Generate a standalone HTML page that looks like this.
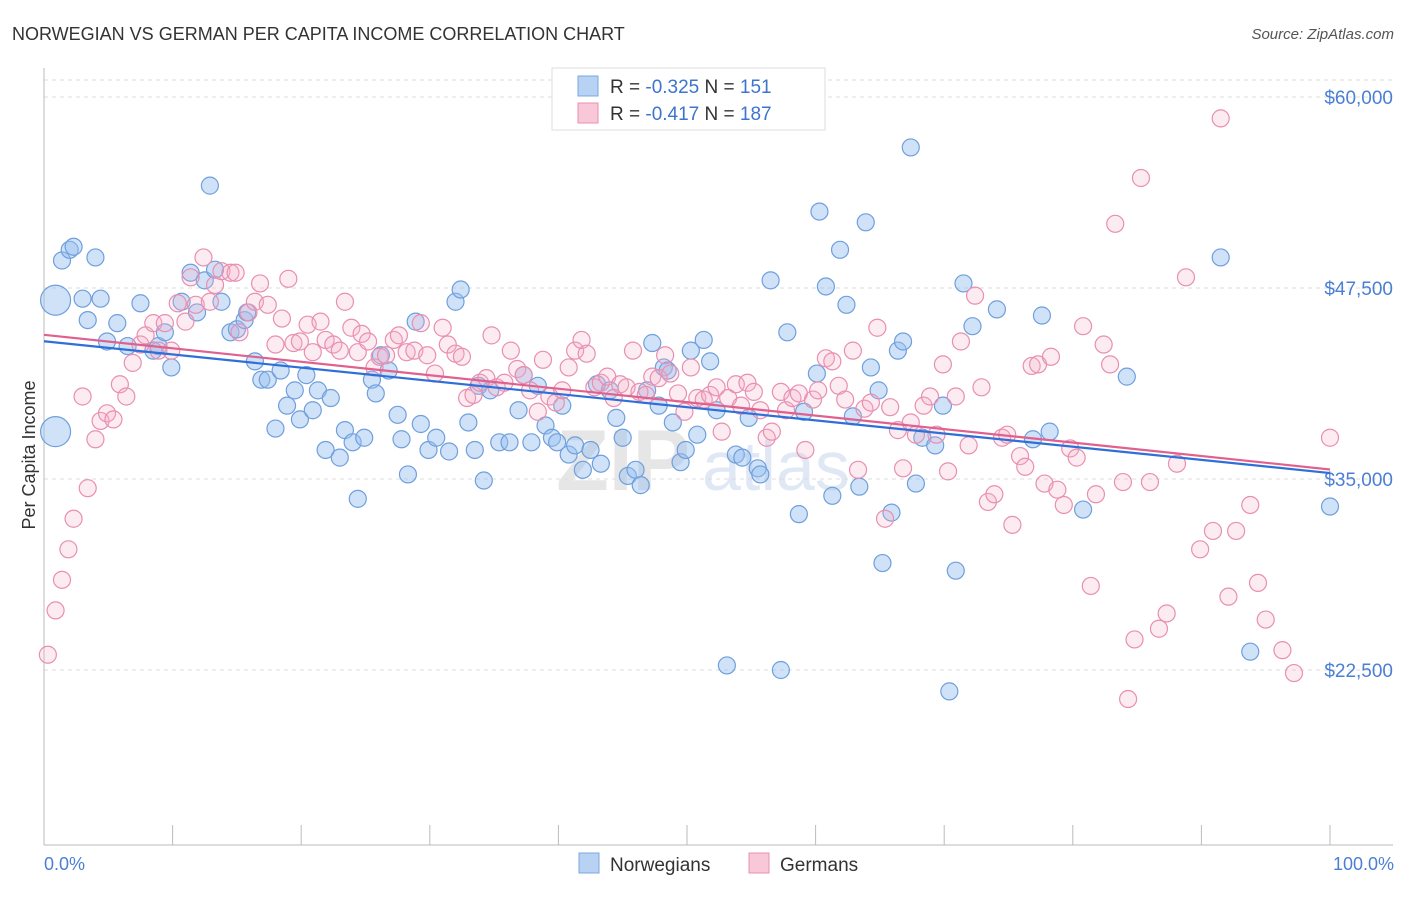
<!DOCTYPE html>
<html><head><meta charset="utf-8"><style>
body{margin:0;background:#fff;font-family:"Liberation Sans",sans-serif;}
svg text{font-family:"Liberation Sans",sans-serif;}
</style></head><body>
<svg id="chart" width="1406" height="892" xmlns="http://www.w3.org/2000/svg">
<text x="12" y="40" font-size="18" fill="#333">NORWEGIAN VS GERMAN PER CAPITA INCOME CORRELATION CHART</text>
<text x="1394" y="39" font-size="15" fill="#555" font-style="italic" text-anchor="end">Source: ZipAtlas.com</text>
<text x="690" y="490" font-size="86" font-weight="bold" fill="#e6e6e6" text-anchor="end" font-family="Liberation Serif">ZIP</text>
<text x="702" y="490" font-size="70" fill="#dfe8f4">atlas</text>
<g id="grid"></g>
<g id="axes"></g>
<g id="pts"></g>
<g id="trend"></g>
<text transform="translate(35,455) rotate(-90)" font-size="18" fill="#333" text-anchor="middle">Per Capita Income</text>
<text x="44" y="870" font-size="18" fill="#4a7fd4">0.0%</text>
<text x="1394" y="870" font-size="18" fill="#4a7fd4" text-anchor="end">100.0%</text>
<g>
<rect x="552" y="68" width="273" height="62" fill="#fff" stroke="#ddd"/>
<rect x="578" y="76" width="20" height="20" fill="#b8d2f4" stroke="#7aa8e0"/>
<text x="610" y="93" font-size="19" fill="#333">R = <tspan fill="#3d74cc">-0.325</tspan>   N = <tspan fill="#3d74cc">151</tspan></text>
<rect x="578" y="103" width="20" height="20" fill="#f8c8d8" stroke="#e890b0"/>
<text x="610" y="120" font-size="19" fill="#333">R = <tspan fill="#3d74cc">-0.417</tspan>   N = <tspan fill="#3d74cc">187</tspan></text>
</g>
<g>
<rect x="579" y="853" width="20" height="20" fill="#b8d2f4" stroke="#7aa8e0"/>
<text x="610" y="871" font-size="19" fill="#333">Norwegians</text>
<rect x="749" y="853" width="20" height="20" fill="#f8c8d8" stroke="#e890b0"/>
<text x="780" y="871" font-size="19" fill="#333">Germans</text>
</g>
</svg>
<script>
const yTicks=[22500,35000,47500,60000];
const yTickLabels=["$22,500","$35,000","$47,500","$60,000"];
const xTicks=[0,10,20,30,40,50,60,70,80,90,100];
const norX=[0.9,0.9,1.4,2.0,2.3,4.0,3.0,4.4,3.4,5.7,4.9,6.5,7.5,8.5,8.9,9.9,9.4,10.7,11.4,11.9,12.9,12.5,13.3,13.8,14.5,15.0,15.6,15.8,16.4,16.9,17.4,18.4,18.0,18.9,19.5,19.9,20.4,20.9,21.3,22.3,21.9,23.0,23.4,24.0,24.4,24.9,25.5,25.8,26.2,26.8,27.5,27.8,28.3,28.9,29.3,29.9,30.5,31.5,32.0,32.4,33.0,33.5,34.2,33.8,34.7,35.4,36.2,36.9,37.3,37.9,38.4,39.0,39.5,39.9,40.3,40.8,41.3,41.9,42.5,43.0,43.3,44.0,44.5,45.0,45.4,46.0,46.4,46.9,47.3,47.8,48.2,48.5,48.9,49.5,49.9,50.3,50.8,51.3,51.8,52.3,53.1,53.8,54.3,54.8,55.5,55.7,56.5,57.3,57.8,58.7,59.1,60.1,60.3,60.8,61.3,61.9,62.4,62.9,63.4,63.9,64.3,64.9,65.2,65.9,66.4,66.8,67.4,67.8,68.3,69.3,69.9,70.4,70.9,71.5,72.2,74.1,76.9,77.6,78.2,80.8,84.2,91.5,93.8,100];
const norY=[46.7,38.1,49.3,50.0,50.2,49.5,46.8,46.8,45.4,45.2,44.0,43.7,46.5,43.4,43.7,42.3,44.6,46.6,48.5,45.9,54.2,48.0,48.7,46.6,44.6,44.8,45.4,45.9,42.7,41.5,41.5,42.1,38.3,39.8,40.8,38.9,41.8,39.5,40.8,40.3,36.9,36.4,38.2,37.4,33.7,37.7,41.5,40.6,43.1,42.1,39.2,37.6,35.3,45.3,38.6,36.9,37.7,36.8,46.6,47.4,38.7,36.9,34.9,41.1,40.8,37.4,37.4,39.5,41.8,37.4,41.1,38.5,37.7,37.4,39.8,36.6,37.2,35.6,36.9,41.2,36.0,40.8,39.0,37.7,35.2,35.6,34.6,40.8,43.9,39.8,42.3,42.1,38.7,36.1,36.9,43.4,37.9,44.1,42.7,39.5,22.8,36.6,36.4,39.0,35.7,35.3,48.0,22.5,44.6,32.7,39.4,41.9,52.5,47.6,33.9,50.0,46.4,39.1,34.5,51.8,42.3,40.8,29.5,32.8,43.4,44.0,56.7,34.7,37.7,37.2,39.8,21.1,29.0,47.8,45.0,46.1,37.6,45.7,38.1,33.0,41.7,49.5,23.7,33.2];
const norBig=[0,1];
const gerX=[0.3,0.9,1.4,1.9,2.3,3.4,3.0,4.0,4.4,4.9,5.4,5.9,6.4,6.9,7.5,7.9,8.5,8.9,9.4,9.9,10.4,11.0,11.4,11.8,12.4,12.9,13.3,13.8,14.5,14.9,15.2,15.9,16.4,16.8,17.4,18.0,18.5,19.0,19.4,19.9,20.5,20.9,21.5,21.9,22.5,23.0,23.4,23.9,24.4,24.7,25.2,25.7,26.1,26.6,27.2,27.6,28.2,28.8,29.3,29.8,30.4,31.0,31.4,32.0,32.5,32.9,33.4,33.9,34.4,34.8,35.2,35.8,36.3,36.8,37.3,37.8,38.4,38.8,39.3,39.8,40.3,40.8,41.3,41.8,42.2,42.8,43.3,43.8,44.3,44.8,45.3,45.8,46.3,46.8,47.3,47.8,48.3,48.7,49.3,49.8,50.3,50.8,51.3,51.8,52.3,52.7,53.2,53.8,54.2,54.7,55.2,55.7,56.2,56.6,57.3,57.7,58.2,58.7,59.2,59.8,60.2,60.8,61.3,61.8,62.3,62.9,63.3,63.8,64.3,64.8,65.4,65.8,66.4,66.8,67.4,67.8,68.4,68.9,69.4,69.9,70.3,70.9,71.3,71.9,72.4,72.9,73.4,73.9,74.5,74.9,75.3,75.9,76.3,76.8,77.3,77.8,78.3,78.8,79.3,79.8,80.3,80.8,81.4,81.8,82.4,82.9,83.3,83.9,84.3,84.8,85.3,86.0,86.7,87.3,88.1,88.8,89.9,90.9,91.5,92.1,92.7,93.8,94.4,95.0,96.3,97.2,100];
const gerY=[23.5,26.4,28.4,30.4,32.4,34.4,40.4,37.6,38.8,39.3,38.9,41.2,40.4,42.6,43.8,44.4,45.2,43.4,45.2,43.4,46.5,45.3,48.2,46.4,49.5,46.6,47.7,48.6,48.5,48.5,44.6,45.9,46.6,47.8,46.4,43.8,45.5,48.1,43.9,44.0,45.1,43.3,45.3,44.1,43.8,43.4,46.6,44.9,43.3,44.5,44.0,42.3,43.0,43.1,44.1,44.4,43.3,43.4,45.2,43.1,41.9,44.9,43.8,43.2,43.0,40.3,40.5,41.3,41.6,44.4,41.0,41.3,43.4,42.2,41.8,40.8,39.4,42.8,40.4,40.0,40.8,42.3,43.4,44.1,43.2,41.0,41.3,41.7,40.3,41.2,41.0,43.4,40.7,40.5,41.7,41.6,43.1,41.9,40.6,39.4,42.3,40.3,40.2,40.5,41.0,38.1,40.3,41.2,39.8,41.3,40.7,39.5,37.7,38.1,40.7,39.5,40.3,40.6,36.9,40.2,40.8,42.9,42.7,41.1,40.2,43.4,35.6,39.6,40.0,44.9,32.4,39.7,38.2,35.7,38.7,37.9,39.8,40.4,37.9,42.5,35.5,40.4,44.0,37.2,47.0,41.0,33.5,34.0,37.7,37.9,32.0,36.5,35.8,42.4,42.5,34.7,43.0,34.3,33.3,37.0,36.4,45.0,28.0,34.0,43.8,42.5,51.7,34.8,20.6,24.5,54.7,34.8,25.2,26.2,36.0,48.2,30.4,31.6,58.6,27.3,31.6,33.3,28.2,25.8,23.8,22.3,37.7];

const X0=44,X1=1330,YT=97,YPX=191/12500;
const sx=v=>X0+(X1-X0)*v/100;
const sy=v=>YT+(60000-v)*YPX;
const NS="http://www.w3.org/2000/svg";
function mk(tag,attrs,parent){const e=document.createElementNS(NS,tag);for(const k in attrs)e.setAttribute(k,attrs[k]);parent.appendChild(e);return e;}
const grid=document.getElementById('grid'),axes=document.getElementById('axes'),pts=document.getElementById('pts'),tr=document.getElementById('trend');
let gl=mk('line',{x1:44,x2:1393,y1:80,y2:80,stroke:'#ddd','stroke-dasharray':'4,4'},grid);


yTicks.forEach((t,i)=>{
  const l=mk('line',{x1:44,x2:1393,y1:sy(t),y2:sy(t),stroke:'#ddd','stroke-dasharray':'4,4'},grid);
  
  
  const tx=mk('text',{x:1393,y:sy(t)+7,'font-size':19,fill:'#4a7fd4','text-anchor':'end'},grid);
  tx.textContent=yTickLabels[i];
  
  
});
let ya=mk('line',{x1:44,x2:44,y1:68,y2:845,stroke:'#bbb'},axes);


let xa=mk('line',{x1:44,x2:1393,y1:845,y2:845,stroke:'#bbb'},axes);


xTicks.forEach(t=>{
  const l=mk('line',{x1:sx(t),x2:sx(t),y1:825,y2:845,stroke:'#bbb'},axes);
  
  
});
function drawSeries(xs,ys,fill,stroke,name,big){
  xs.forEach((x,i)=>{
    const r=(big&&big.includes(i))?15:8.5;
    const c=mk('circle',{cx:sx(x),cy:sy(ys[i]*1000),r:r,fill:fill,stroke:stroke,'stroke-width':1.2},pts);
    
    
  });
}
drawSeries(norX,norY,'rgba(150,190,240,0.45)','#6f9fdc','point-norwegian',norBig);
drawSeries(gerX,gerY,'rgba(245,175,200,0.25)','#e98fb0','point-german',[]);
function reg(xs,ys){const n=xs.length;let mx=0,my=0;xs.forEach((x,i)=>{mx+=x;my+=ys[i];});mx/=n;my/=n;let sxy=0,sxx=0;xs.forEach((x,i)=>{sxy+=(x-mx)*(ys[i]-my);sxx+=(x-mx)*(x-mx);});const b=sxy/sxx;return [my-b*mx,b];}
function drawTrend(xs,ys,color,name){
  const [a,b]=reg(xs,ys);
  const l=mk('line',{x1:sx(0),y1:sy(a*1000),x2:sx(100),y2:sy((a+b*100)*1000),stroke:color,'stroke-width':2.2},tr);
  
  
}
drawTrend(gerX,gerY,'#e0608e','trendline-germans');
drawTrend(norX,norY,'#2e6fd8','trendline-norwegians');
</script>
</body></html>
